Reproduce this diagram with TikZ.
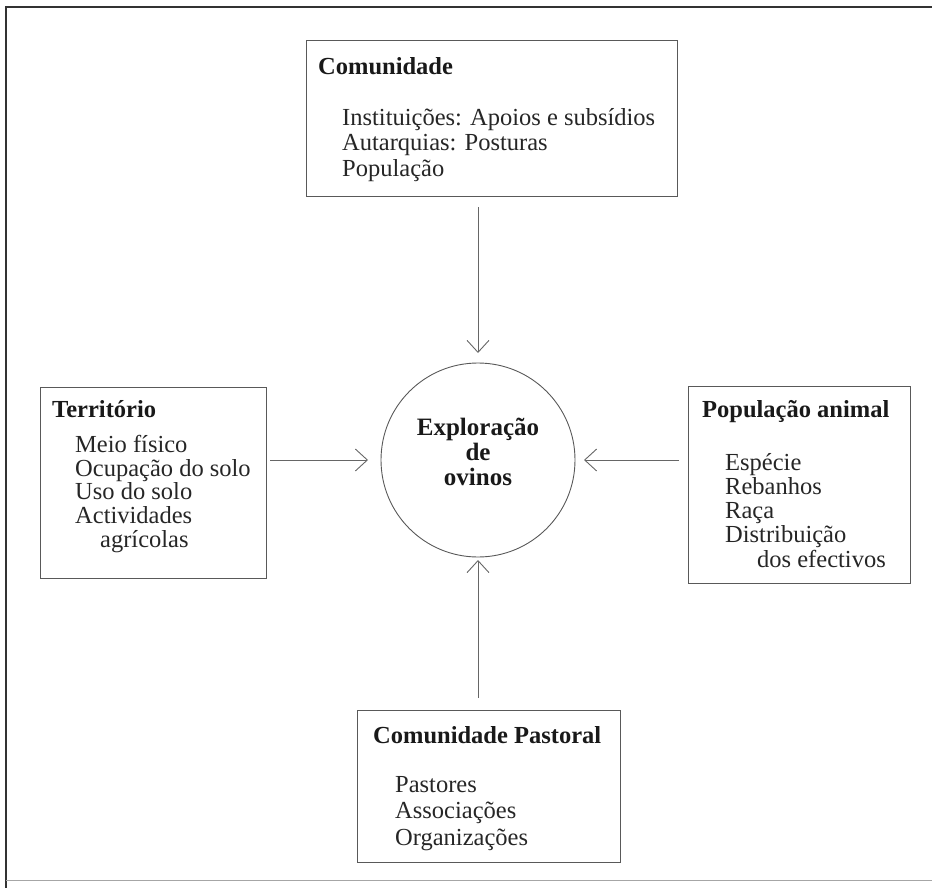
\documentclass[tikz,border=0pt]{standalone}
\usepackage{fontspec}
\setmainfont{Liberation Serif}
\usetikzlibrary{arrows.meta}
\tikzset{
  caixa/.style={draw=black!65,line width=0.9pt,inner sep=0pt,outer sep=0pt,anchor=north west},
  titulo/.style={anchor=base west,inner sep=0pt,text=black!90,font=\fontsize{24.5}{26}\selectfont\bfseries},
  item/.style={anchor=base west,inner sep=0pt,text=black!85,font=\fontsize{24.5}{26}\selectfont},
  seta/.style={draw=black!60,line width=0.9pt,-{Straight Barb[length=12pt,width=22pt,line width=0.9pt]}},
  moldura/.style={draw=black!80,line width=1.1pt}
}

\begin{document}
\begin{tikzpicture}[x=1pt,y=-1pt]
\useasboundingbox (0,0) rectangle (932,888);
% moldura
\coordinate (m1) at (6,7);
\coordinate (m2) at (932,7);
\coordinate (m3) at (6,888);
\draw[moldura] (m2) -- (m1) -- (m3);
\draw[draw=black!35,line width=0.8pt] (6,880) -- (932,880);

% caixas
\node[caixa,minimum width=371pt,minimum height=156pt] (com) at (306,40) {};
\node[caixa,minimum width=226pt,minimum height=191pt] (ter) at (40,387) {};
\node[caixa,minimum width=222pt,minimum height=197pt] (pop) at (688,386) {};
\node[caixa,minimum width=263pt,minimum height=152pt] (pas) at (357,710) {};
\node[circle,draw=black!65,line width=0.9pt,minimum size=194pt,inner sep=0pt,outer sep=0pt] (exp) at (478,460) {};

% Comunidade
\node[titulo] (comT) at (318,75) {Comunidade};
\node[item] (com1) at (342,126) {Instituições: Apoios e subsídios};
\node[item] (com2) at (342,151) {Autarquias: Posturas};
\node[item] (com3) at (342,177) {População};

% Territorio
\node[titulo] (terT) at (52,417) {Território};
\node[item] (ter1) at (75,452) {Meio físico};
\node[item] (ter2) at (75,476) {Ocupação do solo};
\node[item] (ter3) at (75,499.5) {Uso do solo};
\node[item] (ter4) at (75,523) {Actividades};
\node[item] (ter5) at (100,547) {agrícolas};

% Populacao animal
\node[titulo] (popT) at (702,417) {População animal};
\node[item] (pop1) at (725,470) {Espécie};
\node[item] (pop2) at (725,494) {Rebanhos};
\node[item] (pop3) at (725,518) {Raça};
\node[item] (pop4) at (725,542) {Distribuição};
\node[item] (pop5) at (757,567) {dos efectivos};

% Comunidade Pastoral
\node[titulo] (pasT) at (373,743) {Comunidade Pastoral};
\node[item] (pas1) at (395,792) {Pastores};
\node[item] (pas2) at (395,818) {Associações};
\node[item] (pas3) at (395,845) {Organizações};

% centro
\node[align=center,inner sep=0pt,text=black!90,font=\fontsize{25}{25}\selectfont\bfseries]
  (expT) at ([yshift=8pt]exp.center) {Exploração\\de\\ovinos};

% setas
\draw[seta,shorten <=11pt,shorten >=10pt] (com.south -| exp.north) -- (exp.north);
\draw[seta,shorten <=4pt,shorten >=13pt] (ter.east |- exp.west) -- (exp.west);
\draw[seta,shorten <=9pt,shorten >=9pt] (pop.west |- exp.east) -- (exp.east);
\draw[seta,shorten <=12pt,shorten >=3pt] (pas.north -| exp.south) -- (exp.south);
\end{tikzpicture}
\end{document}
